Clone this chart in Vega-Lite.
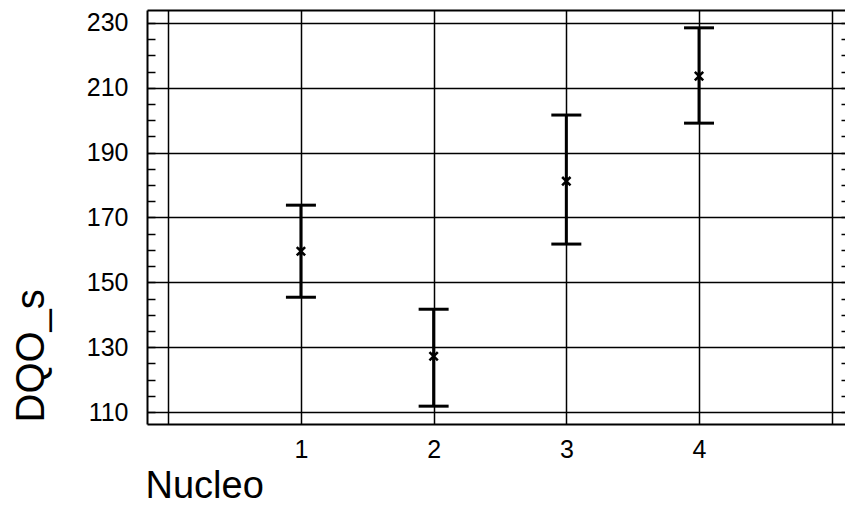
{
  "$schema": "https://vega.github.io/schema/vega-lite/v6.json",
  "width": 698,
  "height": 414,
  "autosize": {"type": "none"},
  "padding": {"left": 147, "top": 10, "right": 0, "bottom": 81},
  "background": "white",
  "config": {
    "view": {"stroke": null},
    "font": "Liberation Sans"
  },
  "data": {
    "values": [
      {"nucleo": 1, "mean": 159.6, "lo": 145.4, "hi": 173.8},
      {"nucleo": 2, "mean": 127.2, "lo": 111.8, "hi": 141.7},
      {"nucleo": 3, "mean": 181.2, "lo": 161.8, "hi": 201.6},
      {"nucleo": 4, "mean": 213.6, "lo": 199.1, "hi": 228.5}
    ]
  },
  "resolve": {"axis": {"x": "independent", "y": "independent"}},
  "layer": [
    {
      "mark": {"type": "rule", "color": "black", "strokeWidth": 3},
      "encoding": {
        "x": {
          "field": "nucleo", "type": "quantitative",
          "scale": {"domain": [-0.16, 5.1], "nice": false, "zero": false},
          "axis": {
            "orient": "bottom", "values": [0, 1, 2, 3, 4, 5],
            "grid": true, "gridColor": "black", "gridWidth": 1.5, "gridOpacity": 1,
            "domainColor": "black", "domainWidth": 2, "ticks": false,
            "labelExpr": "datum.value >= 1 && datum.value <= 4 ? datum.label : ''",
            "labelFontSize": 25, "labelColor": "black", "labelPadding": 13,
            "labelOverlap": false, "labelFlush": false,
            "title": "Nucleo", "titleFontSize": 38, "titleFontWeight": "normal", "titleColor": "black",
            "titleX": -2, "titleY": 73, "titleAlign": "left", "titleBaseline": "alphabetic"
          }
        },
        "y": {
          "field": "lo", "type": "quantitative",
          "scale": {"domain": [106.3, 234], "nice": false, "zero": false},
          "axis": {
            "orient": "left",
            "values": [110, 115, 120, 125, 130, 135, 140, 145, 150, 155, 160, 165, 170, 175, 180, 185, 190, 195, 200, 205, 210, 215, 220, 225, 230],
            "grid": true, "gridColor": "black", "gridWidth": 1.5,
            "gridOpacity": {"condition": {"test": "datum.value % 20 === 10", "value": 1}, "value": 0},
            "domainColor": "black", "domainWidth": 2,
            "ticks": true, "tickSize": -8, "tickColor": "black", "tickWidth": 1.5,
            "labelExpr": "datum.value % 20 === 10 ? datum.label : ''",
            "labelFontSize": 25, "labelColor": "black", "labelPadding": 27,
            "labelOverlap": false, "labelFlush": false,
            "title": "DQO_s", "titleFontSize": 40, "titleFontWeight": "normal", "titleColor": "black",
            "titleAngle": -90, "titleX": -104, "titleY": 412, "titleAlign": "left", "titleBaseline": "alphabetic"
          }
        },
        "y2": {"field": "hi"}
      }
    },
    {
      "mark": {"type": "tick", "orient": "horizontal", "color": "black", "opacity": 1, "size": 30, "thickness": 3},
      "encoding": {
        "x": {"field": "nucleo", "type": "quantitative", "axis": null},
        "y": {"field": "hi", "type": "quantitative", "axis": null}
      }
    },
    {
      "mark": {"type": "tick", "orient": "horizontal", "color": "black", "opacity": 1, "size": 30, "thickness": 3},
      "encoding": {
        "x": {
          "field": "nucleo", "type": "quantitative",
          "axis": {"orient": "top", "domain": true, "domainColor": "black", "domainWidth": 2, "ticks": false, "labels": false, "grid": false, "title": null}
        },
        "y": {
          "field": "lo", "type": "quantitative",
          "axis": {
            "orient": "right", "domain": false, "grid": false, "labels": false, "title": null,
            "values": [110, 115, 120, 125, 130, 135, 140, 145, 150, 155, 160, 165, 170, 175, 180, 185, 190, 195, 200, 205, 210, 215, 220, 225, 230],
            "ticks": true, "tickSize": -4, "tickColor": "black", "tickWidth": 1.5
          }
        }
      }
    },
    {
      "mark": {"type": "point", "shape": "M-1,-1L1,1M-1,1L1,-1M0,-1L0,1", "filled": false, "stroke": "black", "strokeWidth": 2.5, "size": 70, "opacity": 1},
      "encoding": {
        "x": {"field": "nucleo", "type": "quantitative", "axis": null},
        "y": {"field": "mean", "type": "quantitative", "axis": null}
      }
    }
  ]
}
